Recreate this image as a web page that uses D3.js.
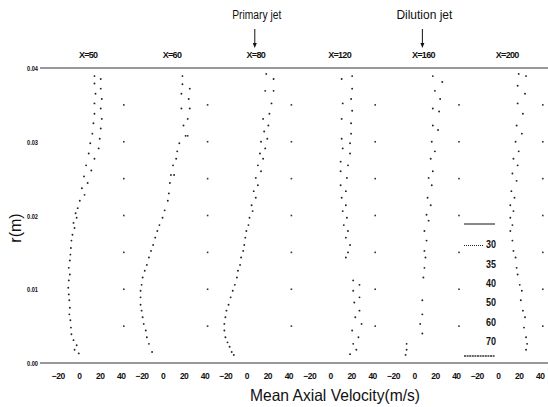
<!DOCTYPE html>
<html>
<head>
<meta charset="utf-8">
<script src="https://cdn.jsdelivr.net/npm/d3@7"></script>
<style>
  html, body { margin: 0; padding: 0; background: #fff; }
  svg { display: block; }
  text { font-family: "Liberation Sans Narrow", "Liberation Sans", Arial, sans-serif; fill: #111; }
</style>
</head>
<body>
<svg id="chart" width="548" height="407"></svg>
<script>
// Measurement stations (axial distance) and axis ticks
const stations = ["X=50", "X=60", "X=80", "X=120", "X=160", "X=200"];
const velocityTicks = [-20, 0, 20, 40];
const radiusTicks = [0, 0.01, 0.02, 0.03, 0.04];
const gridRadii = [0.005, 0.01, 0.015, 0.02, 0.025, 0.03, 0.035];
const legendValues = [30, 35, 40, 50, 60, 70];
const jetStations = ["X=80", "X=160"];
const jetLabels = ["Primary jet", "Dilution jet"];

// Mean axial velocity profiles: [r (m), U (m/s)]
const profileX50 = [
  [0.0389, 15], [0.0385, 21], [0.0379, 15], [0.0372, 21], [0.0365, 16], [0.0358, 22],
  [0.0352, 15], [0.0345, 21], [0.0338, 15], [0.0331, 22], [0.0325, 14], [0.0318, 21],
  [0.0311, 13], [0.0304, 20], [0.0298, 11], [0.0291, 19], [0.0284, 9.5], [0.0277, 15],
  [0.0268, 7], [0.0261, 12], [0.0253, 5], [0.0244, 8.5], [0.0237, 3], [0.0228, 5.5],
  [0.0220, 1], [0.0210, -1], [0.0203, -3], [0.0197, -2], [0.0190, -5], [0.0183, -4],
  [0.0174, -6], [0.0166, -7], [0.0156, -7.5], [0.0147, -8], [0.0139, -8.5], [0.0129, -9.5],
  [0.0120, -8.5], [0.0112, -9.5], [0.0102, -10], [0.0093, -9.5], [0.0085, -9], [0.0075, -8.5],
  [0.0066, -9], [0.0058, -8], [0.0048, -7.5], [0.0039, -7], [0.0031, -5], [0.0024, -2],
  [0.0018, -4], [0.0013, 0]
];
const profileX60 = [
  [0.0389, 19], [0.0378, 19], [0.0372, 26], [0.0365, 18], [0.0358, 25], [0.0345, 26],
  [0.0345, 18], [0.0331, 24], [0.0322, 20], [0.0308, 22], [0.0308, 24], [0.0298, 16],
  [0.0287, 14], [0.0277, 13], [0.0268, 10], [0.0255, 8], [0.0255, 11], [0.0244, 7],
  [0.0230, 6], [0.0220, 5], [0.0207, 2], [0.0197, 0], [0.0187, -3], [0.0179, -5],
  [0.0170, -7], [0.0160, -9], [0.0152, -11], [0.0143, -13], [0.0133, -15], [0.0125, -17],
  [0.0116, -19], [0.0106, -20], [0.0098, -21], [0.0089, -21], [0.0079, -21], [0.0071, -20],
  [0.0062, -19], [0.0053, -18], [0.0044, -16], [0.0035, -15], [0.0026, -13], [0.0015, -10]
];
const profileX80 = [
  [0.0392, 19], [0.0385, 26], [0.0369, 18], [0.0369, 26], [0.0352, 24], [0.0338, 22],
  [0.0331, 16], [0.0322, 21], [0.0314, 17], [0.0304, 20], [0.0300, 14], [0.0291, 18],
  [0.0284, 13], [0.0277, 16], [0.0268, 11], [0.0260, 14], [0.0251, 9], [0.0241, 11],
  [0.0233, 7], [0.0224, 9], [0.0214, 5], [0.0206, 6], [0.0197, 3], [0.0187, 2],
  [0.0179, 0], [0.0170, -1], [0.0160, -2], [0.0152, -3], [0.0143, -5], [0.0133, -6],
  [0.0125, -8], [0.0116, -9], [0.0106, -11], [0.0098, -13], [0.0089, -15], [0.0079, -17],
  [0.0071, -19], [0.0062, -20], [0.0053, -21], [0.0044, -21], [0.0035, -20], [0.0028, -18],
  [0.0022, -16], [0.0015, -14], [0.0011, -12]
];
const profileX120 = [
  [0.0389, 21], [0.0385, 11], [0.0372, 21], [0.0358, 20], [0.0352, 12], [0.0342, 21],
  [0.0331, 11], [0.0325, 20], [0.0311, 20], [0.0304, 11], [0.0298, 19], [0.0291, 12],
  [0.0284, 19], [0.0273, 10], [0.0268, 17], [0.0260, 10], [0.0251, 16], [0.0241, 10],
  [0.0233, 15], [0.0224, 11], [0.0214, 15], [0.0206, 12], [0.0197, 16], [0.0187, 13],
  [0.0179, 17], [0.0170, 15], [0.0160, 19], [0.0150, 17], [0.0143, 15], [0.0112, 22],
  [0.0106, 28], [0.0098, 22], [0.0089, 28], [0.0082, 23], [0.0071, 28], [0.0062, 24],
  [0.0053, 30], [0.0044, 21], [0.0035, 27], [0.0026, 22], [0.0018, 25], [0.0012, 19]
];
const profileX160 = [
  [0.0389, 18], [0.0381, 27], [0.0369, 20], [0.0358, 25], [0.0345, 18], [0.0341, 24],
  [0.0322, 18], [0.0316, 23], [0.0300, 17], [0.0287, 20], [0.0277, 16], [0.0260, 18],
  [0.0251, 14], [0.0241, 17], [0.0224, 13], [0.0214, 16], [0.0201, 12], [0.0193, 14],
  [0.0179, 10], [0.0166, 12], [0.0152, 10], [0.0143, 11], [0.0129, 10], [0.0116, 9],
  [0.0085, 8], [0.0066, 8], [0.0053, 6], [0.0040, 8], [0.0026, -7], [0.0018, -7],
  [0.0011, -8]
];
const profileX200 = [
  [0.0392, 20], [0.0389, 27], [0.0376, 19], [0.0365, 26], [0.0352, 19], [0.0338, 24],
  [0.0322, 18], [0.0311, 23], [0.0300, 17], [0.0287, 20], [0.0277, 15], [0.0268, 19],
  [0.0257, 14], [0.0247, 18], [0.0233, 13], [0.0224, 16], [0.0214, 12], [0.0206, 15],
  [0.0197, 12], [0.0187, 14], [0.0179, 12], [0.0166, 14], [0.0152, 15], [0.0143, 17],
  [0.0129, 18], [0.0120, 19], [0.0106, 21], [0.0098, 23], [0.0085, 22], [0.0071, 24],
  [0.0062, 26], [0.0048, 25], [0.0035, 27], [0.0026, 28], [0.0018, 27]
];
const profiles = [profileX50, profileX60, profileX80, profileX120, profileX160, profileX200];

const svg = d3.select("#chart");

// Shared radial scale, one band per station, local velocity scale inside each band
const y = d3.scaleLinear().domain([0, 0.04]).range([363, 68]);
const panel = d3.scaleBand().domain(stations).range([40, 542.8]).padding(0);
const u = d3.scaleLinear().domain([-37, 43]).range([0, panel.bandwidth()]);

// Frame lines at r = 0 and r = 0.04
svg.selectAll("line.frame")
  .data([0, 0.04])
  .join("line")
  .attr("class", "frame")
  .attr("x1", 40).attr("x2", 548)
  .attr("y1", d => y(d)).attr("y2", d => y(d))
  .attr("stroke", "#333").attr("stroke-width", 1.1);

// Radial axis labels
const yAxis = svg.append("g")
  .attr("transform", "translate(40,0)")
  .call(d3.axisLeft(y).tickValues(radiusTicks).tickFormat(d3.format(".2f")).tickSize(0).tickPadding(2));
yAxis.select(".domain").remove();
yAxis.selectAll("text")
  .attr("font-size", 8).attr("font-weight", "bold")
  .attr("textLength", 11).attr("lengthAdjust", "spacingAndGlyphs")
  .style("font-family", "'Liberation Sans', Arial, sans-serif");

// Grid marks on the station boundaries
const gridPts = [];
stations.forEach(s => gridRadii.forEach(r => gridPts.push([s, r])));
svg.selectAll("rect.grid")
  .data(gridPts)
  .join("rect")
  .attr("class", "grid")
  .attr("x", d => panel(d[0]) + panel.bandwidth() - 0.8)
  .attr("y", d => y(d[1]) - 0.8)
  .attr("width", 1.6).attr("height", 1.6)
  .attr("fill", "#333");

// One group per station
const groups = svg.selectAll("g.station")
  .data(stations)
  .join("g")
  .attr("class", "station")
  .attr("transform", d => `translate(${panel(d)},0)`);

groups.each(function(s, i) {
  const g = d3.select(this);
  const ax = g.append("g")
    .attr("transform", `translate(0,${y(0)})`)
    .call(d3.axisBottom(u).tickValues(velocityTicks).tickSize(0).tickPadding(10));
  ax.select(".domain").remove();
  ax.selectAll("text")
    .attr("font-size", 8.5).attr("font-weight", "bold")
    .style("font-family", "'Liberation Sans', Arial, sans-serif")
    .attr("letter-spacing", -0.6);

  g.append("text")
    .attr("x", u(9)).attr("y", 58)
    .attr("text-anchor", "middle")
    .attr("font-size", 9).attr("font-weight", "bold")
    .attr("letter-spacing", -0.7)
    .text(s);

  g.selectAll("circle")
    .data(profiles[i])
    .join("circle")
    .attr("cx", d => u(d[1]))
    .attr("cy", d => y(d[0]))
    .attr("r", 0.95)
    .attr("fill", "#222");
});

// Jet location markers
jetStations.forEach((s, k) => {
  const x = panel(s) + u(9) - 1;
  svg.append("line")
    .attr("x1", x).attr("x2", x).attr("y1", 29).attr("y2", 44)
    .attr("stroke", "#111").attr("stroke-width", 1);
  svg.append("path")
    .attr("d", `M${x - 2},${43} L${x + 2},${43} L${x},${48} Z`)
    .attr("fill", "#111");
  svg.append("text")
    .attr("x", x + 2).attr("y", 19)
    .attr("text-anchor", "middle")
    .attr("font-size", 12.5)
    .attr("textLength", k === 0 ? 49 : 56).attr("lengthAdjust", "spacingAndGlyphs")
    .text(jetLabels[k]);
});

// Legend
const lg = svg.append("g");
lg.append("line").attr("x1", 464).attr("x2", 495).attr("y1", 224).attr("y2", 224)
  .attr("stroke", "#111").attr("stroke-width", 1);
lg.append("line").attr("x1", 464).attr("x2", 484).attr("y1", 245.5).attr("y2", 245.5)
  .attr("stroke", "#222").attr("stroke-width", 1).attr("stroke-dasharray", "1,1");
lg.selectAll("text")
  .data(legendValues)
  .join("text")
  .attr("x", 486).attr("y", (d, i) => 245.5 + i * 19.3)
  .attr("dominant-baseline", "middle")
  .attr("font-size", 11).attr("font-weight", "bold")
  .attr("textLength", 10).attr("lengthAdjust", "spacingAndGlyphs")
  .text(d => d);
lg.append("line").attr("x1", 464).attr("x2", 495).attr("y1", 356).attr("y2", 356)
  .attr("stroke", "#333").attr("stroke-width", 1.4).attr("stroke-dasharray", "2,0.6");

// Axis titles
svg.append("text")
  .attr("x", 335).attr("y", 401)
  .attr("text-anchor", "middle")
  .attr("font-size", 16.5)
  .attr("textLength", 170).attr("lengthAdjust", "spacingAndGlyphs")
  .text("Mean Axial Velocity(m/s)");

svg.append("text")
  .attr("transform", "translate(21,228) rotate(-90)")
  .attr("text-anchor", "middle")
  .attr("font-size", 16)
  .text("r(m)");
</script>
</body>
</html>
